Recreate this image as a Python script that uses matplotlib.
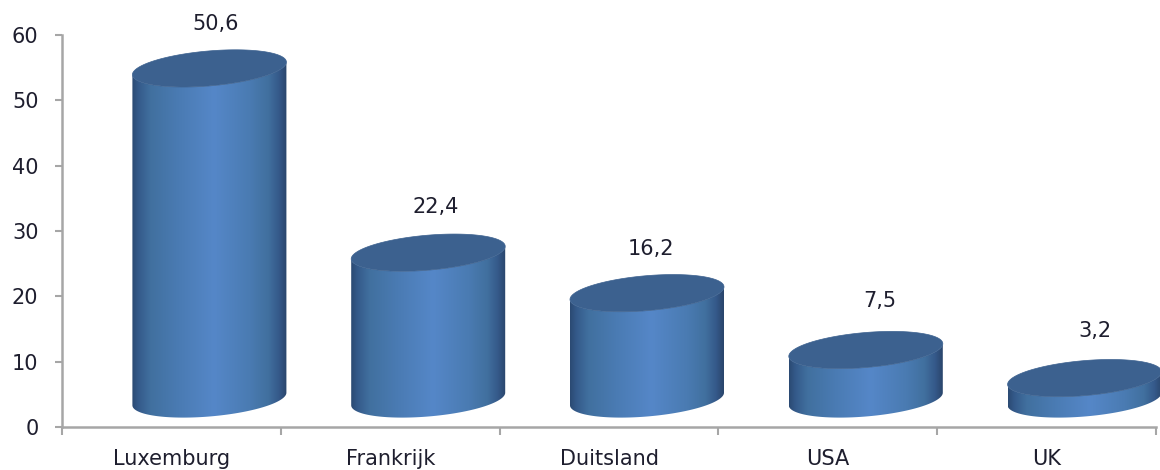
import numpy as np
import matplotlib
matplotlib.use("Agg")
import matplotlib.pyplot as plt
from matplotlib.colors import LinearSegmentedColormap
from matplotlib.patches import PathPatch
from matplotlib.path import Path

categories = ["Luxemburg", "Frankrijk", "Duitsland", "USA", "UK"]
values = [50.6, 22.4, 16.2, 7.5, 3.2]
labels = ["50,6", "22,4", "16,2", "7,5", "3,2"]
yticks = [0, 10, 20, 30, 40, 50, 60]
label_dx_px = [6, 7, 4, 14, 10]
label_dy_px = [44, 46, 44, 49, 47]

W, H = 1160, 470
fig = plt.figure(figsize=(W / 100, H / 100), dpi=100)
L, R, T, B = 62, 1156, 35, 427
ax = fig.add_axes([L / W, (H - B) / H, (R - L) / W, (B - T) / H])
ax.set_xlim(0, len(categories))
ax.set_ylim(0, yticks[-1])

pxy = yticks[-1] / (B - T)
pxx = len(categories) / (R - L)
half_w = 77 * pxx
semi_b = 17.5 * pxy
shear = 6.3 * pxy
lift = 28 * pxy
shift = 38 * pxx

cmap = LinearSegmentedColormap.from_list("cyl", [
    (0.00, "#2b4a73"), (0.04, "#345a8a"), (0.12, "#41709f"), (0.30, "#4a7bb3"),
    (0.53, "#5587c8"), (0.76, "#4a7bb2"), (0.88, "#41709f"), (0.95, "#35598a"), (1.00, "#2a466c")])
grad = np.linspace(0, 1, 256).reshape(1, -1)
top_color = "#3c618f"
text_color = "#1e1e2e"


def arc(cx, cy, t):
    return np.column_stack([cx + half_w * np.cos(t), cy + semi_b * np.sin(t) + shear * np.cos(t)])


for i, v in enumerate(values):
    cx = i + 0.5 + shift
    low = lift
    high = v + lift
    t_low = np.linspace(np.pi, 2 * np.pi, 120)
    side = np.vstack([arc(cx, low, t_low), arc(cx, high, t_low[::-1])])
    patch = PathPatch(Path(np.vstack([side, side[:1]]), closed=True), fc="none", ec="none", clip_on=False)
    ax.add_patch(patch)
    im = ax.imshow(grad, extent=[cx - half_w, cx + half_w, low - 20 * pxy, high + 20 * pxy],
                   aspect="auto", cmap=cmap, origin="lower", zorder=2, interpolation="bilinear")
    im.set_clip_box(fig.bbox)
    im.set_clip_path(patch)
    t_full = np.linspace(0, 2 * np.pi, 240)
    ax.fill(*arc(cx, high, t_full).T, color=top_color, lw=0.5, zorder=3, clip_on=False)
    ax.annotate(labels[i], xy=(cx, high), xytext=(label_dx_px[i] * 0.72, label_dy_px[i] * 0.72),
                textcoords="offset points", ha="center", va="center", fontsize=15,
                color=text_color, annotation_clip=False)

ax.set_xlim(0, len(categories))
ax.set_ylim(0, yticks[-1])
ax.set_xticks(np.arange(len(categories) + 1))
ax.set_xticklabels([])
ax.set_xticks(np.arange(len(categories)) + 0.5, minor=True)
ax.set_xticklabels(categories, minor=True, fontsize=15, color=text_color)
ax.tick_params(axis="x", which="minor", length=0, pad=16)
ax.tick_params(axis="x", which="major", length=6, width=1.5, color="#a6a6a6")
ax.set_yticks(yticks)
ax.tick_params(axis="y", length=5, width=1.5, color="#a6a6a6", labelsize=15, labelcolor=text_color, pad=12)
for s in ("top", "right"):
    ax.spines[s].set_visible(False)
for s in ("left", "bottom"):
    ax.spines[s].set_color("#a6a6a6")
    ax.spines[s].set_linewidth(1.8)

fig.savefig("out.png", dpi=100)
